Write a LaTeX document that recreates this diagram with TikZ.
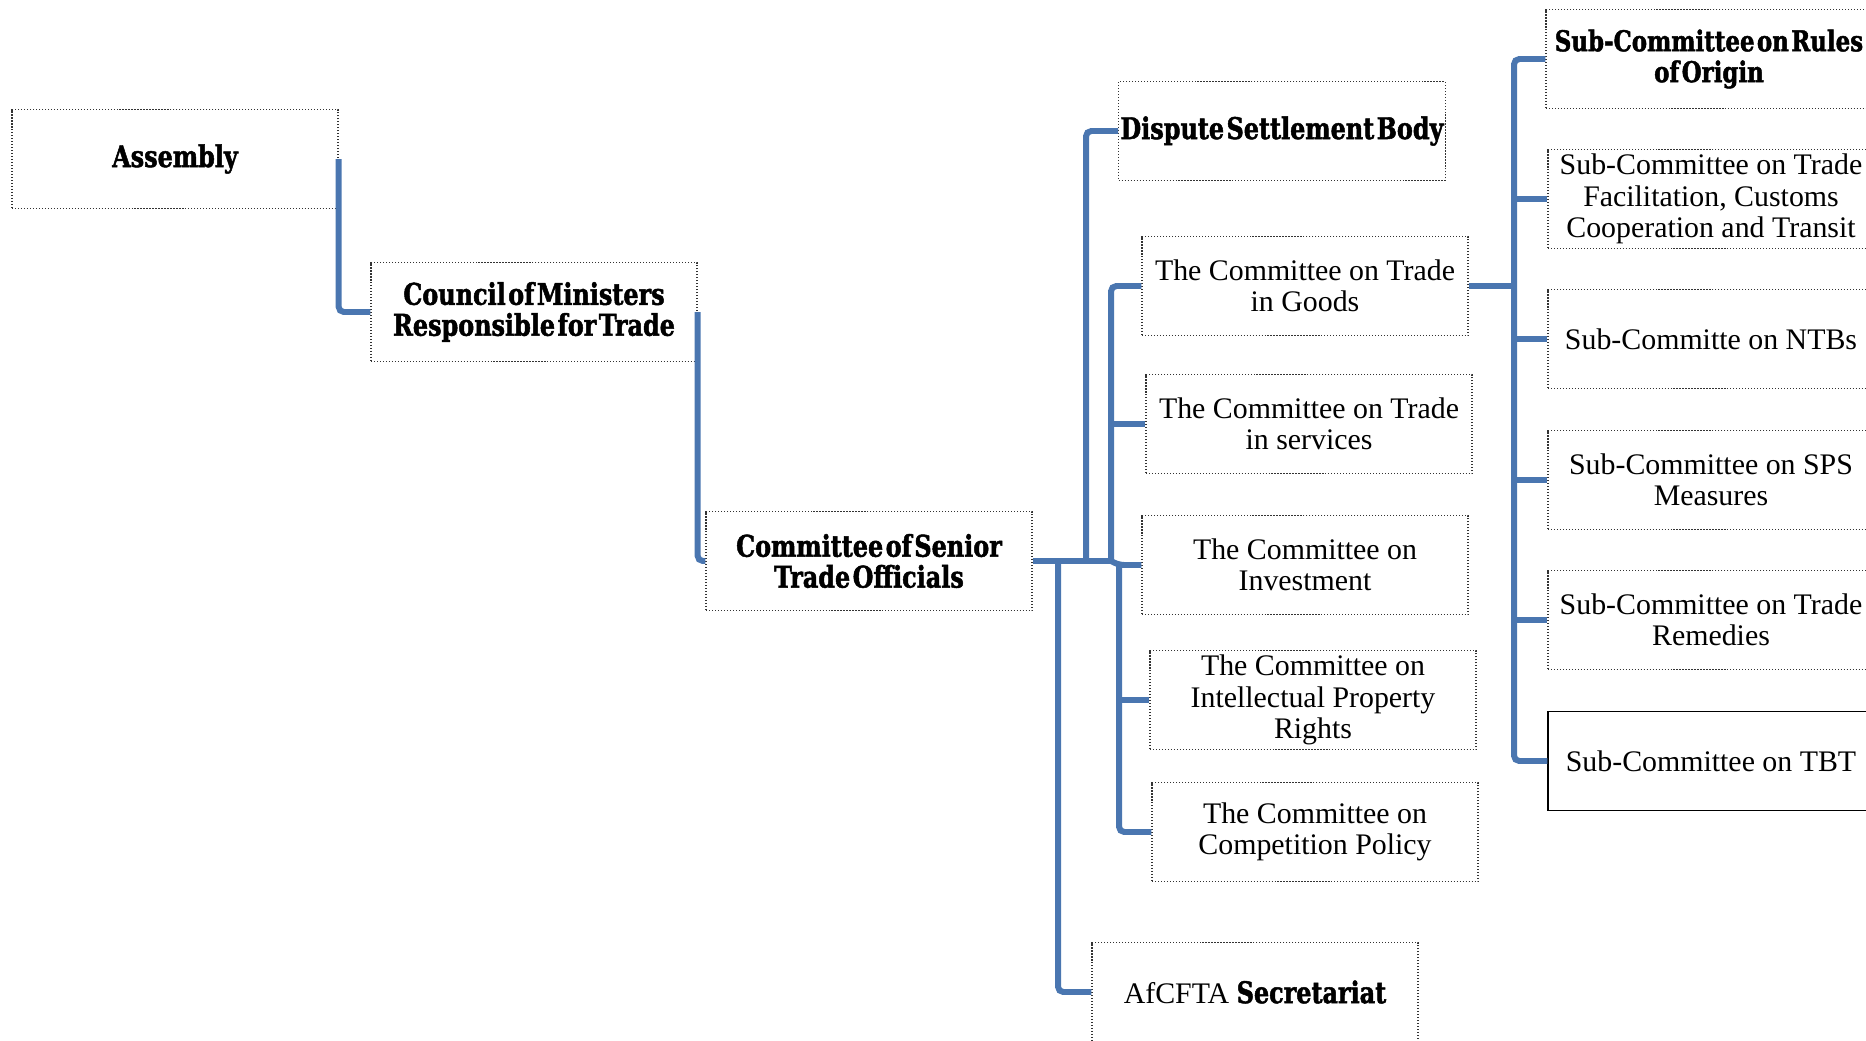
\documentclass[tikz,border=0pt]{standalone}
\usepackage{xcolor}
\usepackage{fontspec}
\usepackage{tikz}
\usetikzlibrary{positioning, calc}
\setmainfont{Liberation Serif}
\newfontfamily\heavyfont{DejaVu Serif}[FakeStretch=0.8, FakeBold=1.6, WordSpace=0.3]
\definecolor{linkblue}{HTML}{4A76B0}
\definecolor{boxedge}{HTML}{333333}

\tikzset{
  orgbox/.style={draw=boxedge, densely dotted, line width=0.7pt,
    minimum width=6.52cm, minimum height=1.98cm, inner sep=1pt,
    align=center, font=\fontsize{17}{17.8}\selectfont},
  headbox/.style={orgbox, font=\heavyfont\bfseries\fontsize{17}{17.6}\selectfont},
  subbox/.style={orgbox, minimum width=6.52cm},
  link/.style={linkblue, line width=3.4pt, rounded corners=3pt}
}

\begin{document}
\begin{tikzpicture}[x=0.02cm, y=-0.02cm]
  % page frame
  \useasboundingbox (0,0) rectangle (1866,1041);
  \clip (0,0) rectangle (1866,1041);

  % Upper chain of organs
  \node[headbox] (assembly) at (175,159) {Assembly};
  \node[headbox] (council) at (534,312) {Council of Ministers\\Responsible for Trade};
  \node[headbox] (senior) at (869,561) {Committee of Senior\\Trade Officials};

  % Bodies under the senior officials
  \node[headbox] (dispute) at (1282,131) {Dispute Settlement Body};
  \node[orgbox] (goods) at (1305,286) {The Committee on Trade\\in Goods};
  \node[orgbox] (services) at (1309,424) {The Committee on Trade\\in services};
  \node[orgbox] (investment) at (1305,565) {The Committee on\\Investment};
  \node[orgbox] (ipr) at (1313,700) {The Committee on\\Intellectual Property\\Rights};
  \node[orgbox] (competition) at (1315,832) {The Committee on\\Competition Policy};
  \node[orgbox] (secretariat) at (1255,992) {AfCFTA {\heavyfont\bfseries Secretariat}};

  % Sub-committees under trade in goods
  \node[headbox, font=\heavyfont\bfseries\fontsize{16.3}{17.6}\selectfont] (rules) at (1709,59) {Sub-Committee on Rules\\of Origin};
  \node[subbox] (facil) at (1711,199) {Sub-Committee on Trade\\Facilitation, Customs\\Cooperation and Transit};
  \node[subbox] (ntb) at (1711,339) {Sub-Committe on NTBs};
  \node[subbox] (sps) at (1711,480) {Sub-Committee on SPS\\Measures};
  \node[subbox] (remedies) at (1711,620) {Sub-Committee on Trade\\Remedies};
  \node[subbox, solid, draw=black, line width=0.9pt] (tbt) at (1711,761) {Sub-Committee on TBT};

  % Junction points
  \coordinate (jsec) at (1058,561);
  \coordinate (jds) at (1086,561);
  \coordinate (jgs) at (1111,561);
  \coordinate (jinv) at (1119,565);
  \coordinate (jsub) at (1514,286);

  % Connectors
  \draw[link] (assembly.east) |- (council.west);
  \draw[link] (council.east) |- (senior.west);
  \draw[link] (senior.east) -- (jgs);
  \draw[link] (jsec) |- (secretariat.west);
  \draw[link] (jds) |- (dispute.west);
  \draw[link] (jgs) |- (goods.west);
  \draw[link] (jgs |- services.west) -- (services.west);
  \draw[link] (jgs) -- (jinv) -- (investment.west);
  \draw[link] (jinv) |- (competition.west);
  \draw[link] (jinv |- ipr.west) -- (ipr.west);

  \draw[link] (goods.east) -- (jsub);
  \draw[link] (rules.west) -| (jsub) |- (tbt.west);
  \foreach \sub in {facil, ntb, sps, remedies}
    \draw[link] (jsub |- \sub.west) -- (\sub.west);
\end{tikzpicture}
\end{document}
